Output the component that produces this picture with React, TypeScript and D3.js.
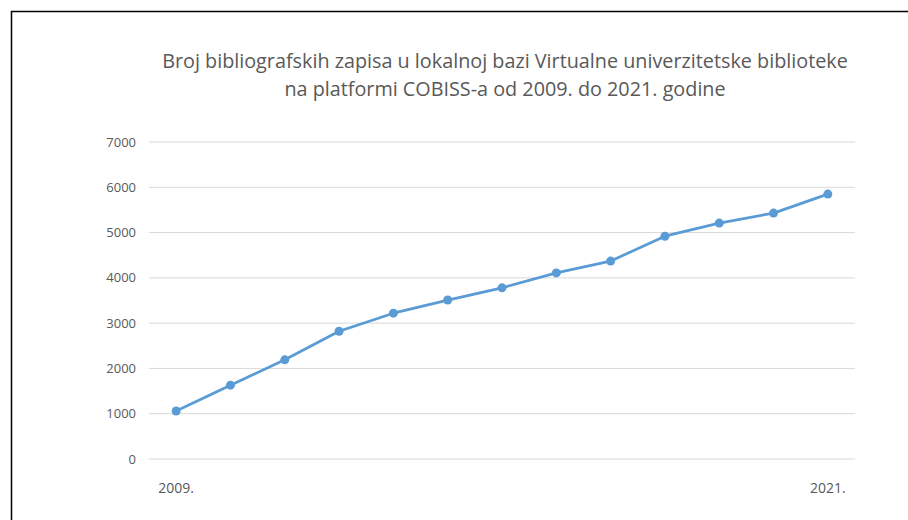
import React from "react";
import * as d3 from "d3";

const years = ["2009.", "2010.", "2011.", "2012.", "2013.", "2014.", "2015.", "2016.", "2017.", "2018.", "2019.", "2020.", "2021."];
const records = [1060, 1630, 2190, 2820, 3220, 3510, 3780, 4110, 4370, 4920, 5210, 5430, 5850];
const yTicks = [0, 1000, 2000, 3000, 4000, 5000, 6000, 7000];
const shownXLabels = ["2009.", "2021."];
const titleLines = [
  "Broj bibliografskih zapisa u lokalnoj bazi Virtualne univerzitetske biblioteke",
  "na platformi COBISS-a od 2009. do 2021. godine",
];

export default function App() {
  const W = 908, H = 520;
  const left = 149, right = 855, top = 142, bottom = 459;
  const x = d3.scaleBand<string>().domain(years).range([left, right]);
  const y = d3.scaleLinear().domain([0, 7000]).range([bottom, top]);
  const cx = (d: string) => (x(d) ?? 0) + x.bandwidth() / 2;
  const line = d3.line<number>().x((_, i) => cx(years[i])).y((v) => y(v));
  const font = "'Open Sans', 'Liberation Sans', sans-serif";
  return (
    <svg width={W} height={H} style={{ position: "absolute", left: 0, top: 0, background: "#fff" }} fontFamily={font}>
      <rect x={0} y={0} width={W} height={H} fill="#fff" />
      <line x1={11.5} y1={11} x2={11.5} y2={H} stroke="#000" strokeWidth={1.5} />
      <line x1={11} y1={11.5} x2={W} y2={11.5} stroke="#000" strokeWidth={1.5} />
      {titleLines.map((t, i) => (
        <text key={i} x={505} y={68 + i * 28} textAnchor="middle" fontSize={19.8} fill="#595959">{t}</text>
      ))}
      {yTicks.map((t) => (
        <g key={t}>
          <line x1={left} x2={right} y1={y(t)} y2={y(t)} stroke="#d9d9d9" strokeWidth={1} />
          <text x={136} y={y(t)} dy="0.35em" textAnchor="end" fontSize={13} fill="#595959">{t}</text>
        </g>
      ))}
      {shownXLabels.map((l) => (
        <text key={l} x={cx(l)} y={493} textAnchor="middle" fontSize={14} fill="#595959">{l}</text>
      ))}
      <path d={line(records) ?? ""} fill="none" stroke="#5b9bd5" strokeWidth={2.75} strokeLinejoin="round" />
      {records.map((v, i) => (
        <circle key={i} cx={cx(years[i])} cy={y(v)} r={4.5} fill="#5b9bd5" />
      ))}
    </svg>
  );
}
